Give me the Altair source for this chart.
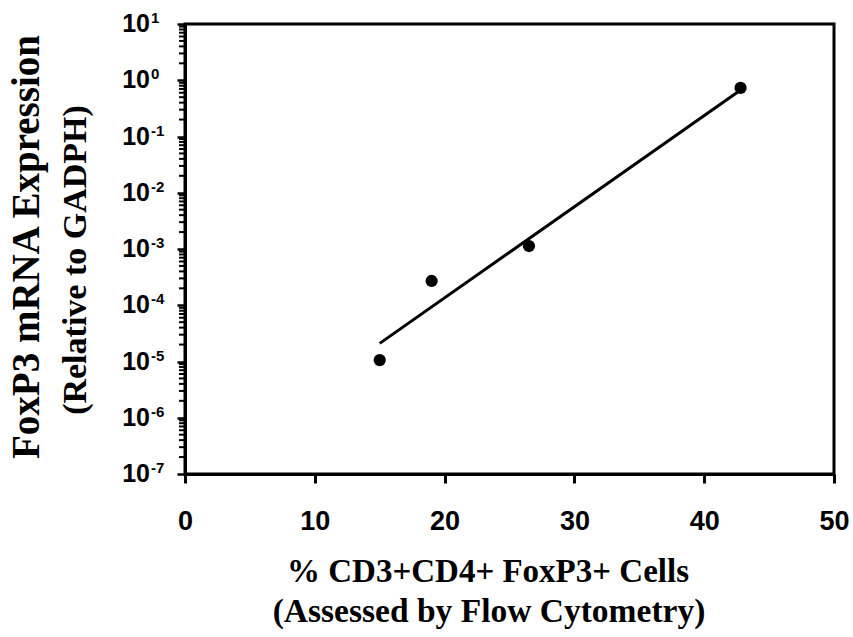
import altair as alt
import pandas as pd

# Data points
pct_cells = [15.0, 19.0, 26.5, 42.8]
foxp3_expr = [1.06e-5, 2.7e-4, 1.13e-3, 0.73]

# Regression line endpoints
fit_x = [15.0, 43.0]
fit_y = [2.1e-5, 0.72]

# Axis ticks
x_ticks = [0, 10, 20, 30, 40, 50]
y_exponents = [1, 0, -1, -2, -3, -4, -5, -6, -7]
minor_mult = [2, 3, 4, 5, 6, 7, 8, 9]

y_major = [10.0 ** e for e in y_exponents]
y_minor = [m * 10.0 ** e for e in y_exponents[1:] for m in minor_mult]

pts = pd.DataFrame({"x": pct_cells, "y": foxp3_expr})
fit = pd.DataFrame({"x": fit_x, "y": fit_y})
ylab = pd.DataFrame({"y": y_major, "base": ["10"] * len(y_major),
                     "exp": [str(e) for e in y_exponents]})
minor = pd.DataFrame({"y": y_minor})

xs = alt.Scale(domain=[0, 50], nice=False, zero=False)
ys = alt.Scale(type="log", domain=[1e-7, 10], nice=False)

xax = alt.Axis(values=x_ticks, tickSize=9, tickWidth=3, tickColor="black",
               domainColor="black", domainWidth=3, grid=False, title=None,
               labelFont="Liberation Sans", labelFontWeight="bold",
               labelFontSize=27, labelColor="black", labelPadding=25,
               labelFlush=False)
yax = alt.Axis(values=y_major, tickSize=8, tickWidth=2.5, tickColor="black",
               domainColor="black", domainWidth=3, grid=False, title=None,
               labels=False)

points = alt.Chart(pts).mark_circle(size=150, color="black", opacity=1).encode(
    x=alt.X("x:Q", scale=xs, axis=xax),
    y=alt.Y("y:Q", scale=ys, axis=yax),
)

line = alt.Chart(fit).mark_line(color="black", strokeWidth=3).encode(
    x=alt.X("x:Q", scale=xs),
    y=alt.Y("y:Q", scale=ys),
)

minor_ticks = alt.Chart(minor).mark_rule(color="black", strokeWidth=2).encode(
    x=alt.value(-6), x2=alt.value(1),
    y=alt.Y("y:Q", scale=ys),
)

ybase = alt.Chart(ylab).mark_text(
    align="right", baseline="middle", font="Liberation Sans", fontWeight="bold",
    fontSize=25, color="black"
).encode(x=alt.value(-35), y=alt.Y("y:Q", scale=ys), text="base:N")

yexp = alt.Chart(ylab).mark_text(
    align="left", baseline="middle", font="Liberation Sans", fontWeight="bold",
    fontSize=15, color="black", dy=-6
).encode(x=alt.value(-34), y=alt.Y("y:Q", scale=ys), text="exp:N")

title_font = dict(font="Liberation Serif", fontWeight="bold", color="black")

one = pd.DataFrame({"a": [0]})
xt1 = alt.Chart(one).mark_text(fontSize=33, align="center", baseline="middle", **title_font).encode(
    x=alt.value(303), y=alt.value(548), text=alt.value("% CD3+CD4+ FoxP3+ Cells"))
xt2 = alt.Chart(one).mark_text(fontSize=33.5, align="center", baseline="middle", **title_font).encode(
    x=alt.value(304), y=alt.value(588), text=alt.value("(Assessed by Flow Cytometry)"))
yt1 = alt.Chart(one).mark_text(fontSize=39, angle=270, align="center", baseline="middle", **title_font).encode(
    x=alt.value(-158), y=alt.value(223), text=alt.value("FoxP3 mRNA Expression"))
yt2 = alt.Chart(one).mark_text(fontSize=34, angle=270, align="center", baseline="middle", **title_font).encode(
    x=alt.value(-109), y=alt.value(236), text=alt.value("(Relative to GADPH)"))

chart = alt.layer(minor_ticks, line, points, ybase, yexp, xt1, xt2, yt1, yt2).properties(
    width=649, height=450,
    padding={"left": 185, "top": 24, "right": 19, "bottom": 163},
    autosize=alt.AutoSizeParams(type="none"),
    background="white",
).configure_view(stroke="black", strokeWidth=3)

chart.save("out.html", embed_options={"renderer": "svg", "actions": False})
